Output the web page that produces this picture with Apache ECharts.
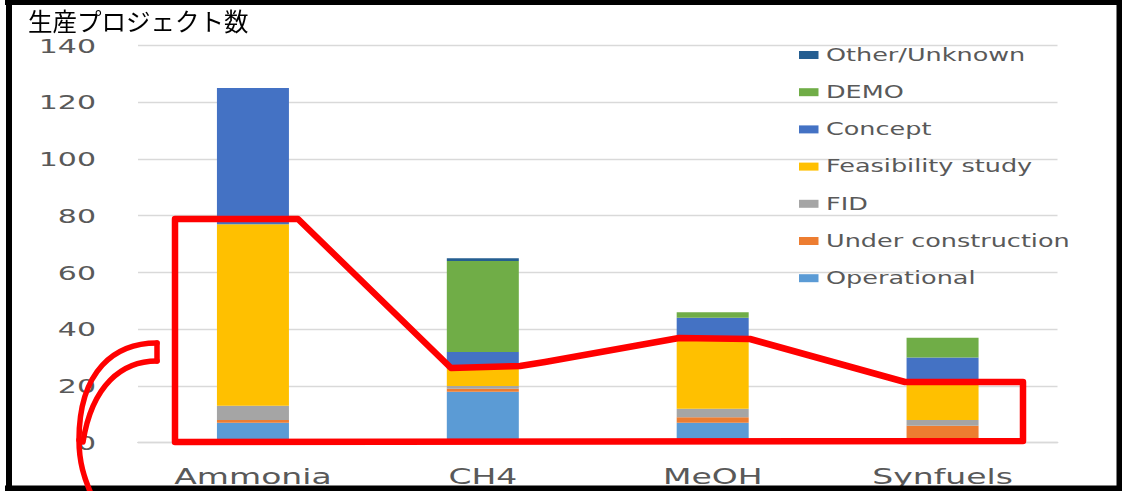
<!DOCTYPE html>
<html>
<head>
<meta charset="utf-8">
<script src="https://cdn.jsdelivr.net/npm/echarts@6/dist/echarts.min.js"></script>
<style>
  html, body { margin: 0; padding: 0; background: #fff; }
  #wrap { position: relative; width: 1124px; height: 491px; overflow: hidden; }
  #chart { position: absolute; left: 0; top: 0; width: 749.333px; height: 491px; transform: scaleX(1.5); transform-origin: 0 0; }
  #overlay { position: absolute; left: 0; top: 0; width: 1124px; height: 491px; pointer-events: none; }
</style>
</head>
<body>
<div id="wrap">
  <div id="chart"></div>
  <div id="overlay"></div>
</div>
<script>
// ---- data ----
const categories = ['Ammonia', 'CH4', 'MeOH', 'Synfuels'];
const operational = [7, 18, 7, 0];
const underConstruction = [1, 1, 2, 6];
const fid = [5, 1, 3, 2];
const feasibilityStudy = [64, 6, 24, 13];
const concept = [48, 6, 8, 9];
const demo = [0, 32, 2, 7];
const otherUnknown = [0, 1, 0, 0];
const yMin = 0, yMax = 140, yInterval = 20;
const titleText = '生産プロジェクト数';

const seriesDefs = [
  { name: 'Operational', data: operational, color: '#5B9BD5' },
  { name: 'Under construction', data: underConstruction, color: '#ED7D31' },
  { name: 'FID', data: fid, color: '#A5A5A5' },
  { name: 'Feasibility study', data: feasibilityStudy, color: '#FFC000' },
  { name: 'Concept', data: concept, color: '#4472C4' },
  { name: 'DEMO', data: demo, color: '#70AD47' },
  { name: 'Other/Unknown', data: otherUnknown, color: '#255E91' }
];

const S = 1.5; // horizontal stretch of the base chart
const font = 'DejaVu Sans';

const chart = echarts.init(document.getElementById('chart'), null, { renderer: 'svg' });
chart.setOption({
  animation: false,
  backgroundColor: '#ffffff',
  grid: { left: 138 / S, right: 749.333 - 1058 / S, top: 45.5, bottom: 48.3 },
  legend: {
    orient: 'vertical',
    left: (799 - 7.5) / S,
    top: 40,
    itemWidth: 13,
    itemHeight: 8,
    itemGap: 17.2,
    icon: 'rect',
    selectedMode: false,
    data: seriesDefs.map(s => s.name).reverse(),
    textStyle: { fontFamily: font, fontSize: 17, color: '#595959', lineHeight: 20 }
  },
  xAxis: {
    type: 'category',
    data: categories,
    axisLine: { show: true, lineStyle: { color: '#D9D9D9', width: 1.3 } },
    axisTick: { show: false },
    axisLabel: { fontFamily: font, fontSize: 22, color: '#595959', margin: 22.5 }
  },
  yAxis: {
    type: 'value',
    min: yMin, max: yMax, interval: yInterval,
    axisLine: { show: false },
    axisTick: { show: false },
    splitLine: { lineStyle: { color: '#D9D9D9', width: 1.3 } },
    axisLabel: { fontFamily: font, fontSize: 20, color: '#595959', margin: 28 }
  },
  series: seriesDefs.map(s => ({
    name: s.name,
    type: 'bar',
    stack: 'total',
    barWidth: 72 / S,
    itemStyle: { color: s.color },
    data: s.data
  }))
});

// ---- overlay: title, frame and hand-drawn red annotations ----
const overlay = echarts.init(document.getElementById('overlay'), null, { renderer: 'canvas' });
const red = '#FF0000';
overlay.setOption({
  animation: false,
  graphic: [
    { type: 'rect', shape: { x: 5, y: 0, width: 1117, height: 5 }, style: { fill: '#000' } },
    { type: 'rect', shape: { x: 1116.5, y: 0, width: 5.5, height: 491 }, style: { fill: '#000' } },
    { type: 'rect', shape: { x: 5, y: 485.5, width: 1117, height: 5.5 }, style: { fill: '#000' } },
    { type: 'rect', shape: { x: 6, y: 0, width: 6, height: 491 }, style: { fill: '#000' } },
    {
      type: 'text', x: 28, y: 9,
      style: { text: titleText, fontFamily: 'Noto Sans CJK JP', fontSize: 24.5, fill: '#000', verticalAlign: 'top' }
    },
    {
      type: 'polygon',
      shape: { points: [[175, 442], [175, 219], [298, 219], [451, 368], [520, 366], [545, 362], [679, 338], [750, 339], [905, 382], [1023, 382], [1023, 441]] },
      style: { fill: null, stroke: red, lineWidth: 6.5, lineJoin: 'round' }
    },
    {
      type: 'bezierCurve',
      shape: { x1: 157, y1: 343, cpx1: 115, cpy1: 343, cpx2: 79, cpy2: 370, x2: 79, y2: 440 },
      style: { fill: null, stroke: red, lineWidth: 5.5, lineCap: 'round' }
    },
    {
      type: 'bezierCurve',
      shape: { x1: 79, y1: 440, cpx1: 79, cpy1: 462, cpx2: 84, cpy2: 478, x2: 92, y2: 496 },
      style: { fill: null, stroke: red, lineWidth: 5.5, lineCap: 'round' }
    },
    {
      type: 'bezierCurve',
      shape: { x1: 157, y1: 361, cpx1: 122, cpy1: 361, cpx2: 92, cpy2: 385, x2: 83, y2: 442 },
      style: { fill: null, stroke: red, lineWidth: 5.5, lineCap: 'round' }
    },
    {
      type: 'line',
      shape: { x1: 157, y1: 343, x2: 157, y2: 361 },
      style: { stroke: red, lineWidth: 5.5, lineCap: 'round' }
    }
  ]
});
</script>
</body>
</html>
